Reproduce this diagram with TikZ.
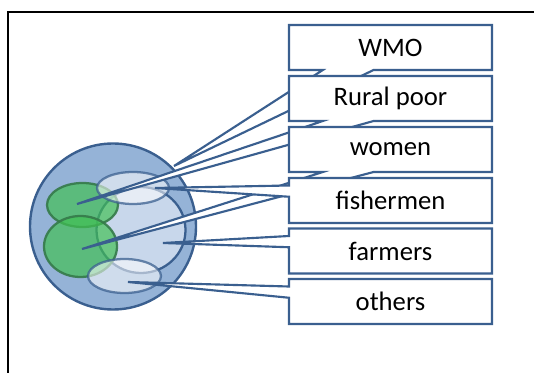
\documentclass[tikz,border=0pt]{standalone}
\usepackage{fontspec}
\setmainfont{Carlito}
\usetikzlibrary{calc}
\pgfdeclarelayer{blobs}
\pgfdeclarelayer{shapes}
\pgfsetlayers{blobs,shapes,main}

\definecolor{edgeblue}{HTML}{3A5F8F}
\definecolor{ringblue}{HTML}{95B3D7}
\definecolor{paleblue}{HTML}{C8D7EB}
\definecolor{grpgreen}{HTML}{40C052}
\definecolor{grpedge}{HTML}{357A4A}

\tikzset{
  x=0.75pt, y=-0.75pt,
  boxtext/.style={minimum width=152.25pt, minimum height=33.75pt,
    inner sep=0pt, outer sep=0pt, font=\fontsize{20}{24}\selectfont},
  callout/.style={draw=edgeblue, fill=white, line width=1.6pt, line join=miter},
  ring/.style={draw=edgeblue, fill=ringblue, line width=1.8pt},
  inner/.style={draw=edgeblue, fill=paleblue, line width=1.7pt},
  greengrp/.style={draw=grpedge, fill=grpgreen, fill opacity=0.68, draw opacity=0.9, line width=1.7pt},
  lightgrp/.style={draw=edgeblue, fill=white, fill opacity=0.55, draw opacity=0.75, line width=1.7pt},
}

\begin{document}
\begin{tikzpicture}
\useasboundingbox (0,0) rectangle (534,373);

% outer frame
\draw[line width=1.5pt] (8,373) -- (8,12) -- (534,12);

% grouped population sets
\begin{pgfonlayer}{blobs}
  \draw[ring] (113,226.5) circle [radius=83];
  \draw[inner] (141,230) ellipse [x radius=44.5, y radius=43];
  \draw[greengrp] (82.5,205) ellipse [x radius=35.5, y radius=22];
  \draw[greengrp] (80.5,246.5) ellipse [x radius=36.5, y radius=30.5];
  \draw[lightgrp] (133,188) ellipse [x radius=36, y radius=16];
  \draw[lightgrp] (124.5,276) ellipse [x radius=36.5, y radius=17];
\end{pgfonlayer}

% callout tips
\coordinate (tWMO) at (174,166);
\coordinate (tRural) at (77,204);
\coordinate (tWomen) at (82,249);
\coordinate (tFish) at (155,188);
\coordinate (tFarm) at (163,243);
\coordinate (tOther) at (128,282);

% labels
\node[boxtext] (wmo)   at (390.5,47.5)  {WMO};
\node[boxtext] (rural) at (390.5,98.5)  {Rural poor};
\node[boxtext] (women) at (390.5,149.5) {women};
\node[boxtext] (fish)  at (390.5,200.5) {fishermen};
\node[boxtext] (farm)  at (390.5,251)   {farmers};
\node[boxtext] (other) at (390.5,301.5) {others};

% callout outlines, wedge on the bottom edge
\begin{pgfonlayer}{shapes}
  \foreach \b/\t in {wmo/tWMO, rural/tRural, women/tWomen}{
    \draw[callout] (\b.north west) -- (\b.north east) -- (\b.south east)
      -- ($(\b.south west)!5/12!(\b.south east)$) -- (\t)
      -- ($(\b.south west)!1/6!(\b.south east)$) -- (\b.south west) -- cycle;
  }
  % callout outlines, wedge on the left edge
  \foreach \b/\t in {fish/tFish, farm/tFarm, other/tOther}{
    \draw[callout] (\b.north west) -- (\b.north east) -- (\b.south east)
      -- (\b.south west) -- ($(\b.north west)!5/12!(\b.south west)$) -- (\t)
      -- ($(\b.north west)!1/6!(\b.south west)$) -- cycle;
  }
\end{pgfonlayer}
\end{tikzpicture}
\end{document}
